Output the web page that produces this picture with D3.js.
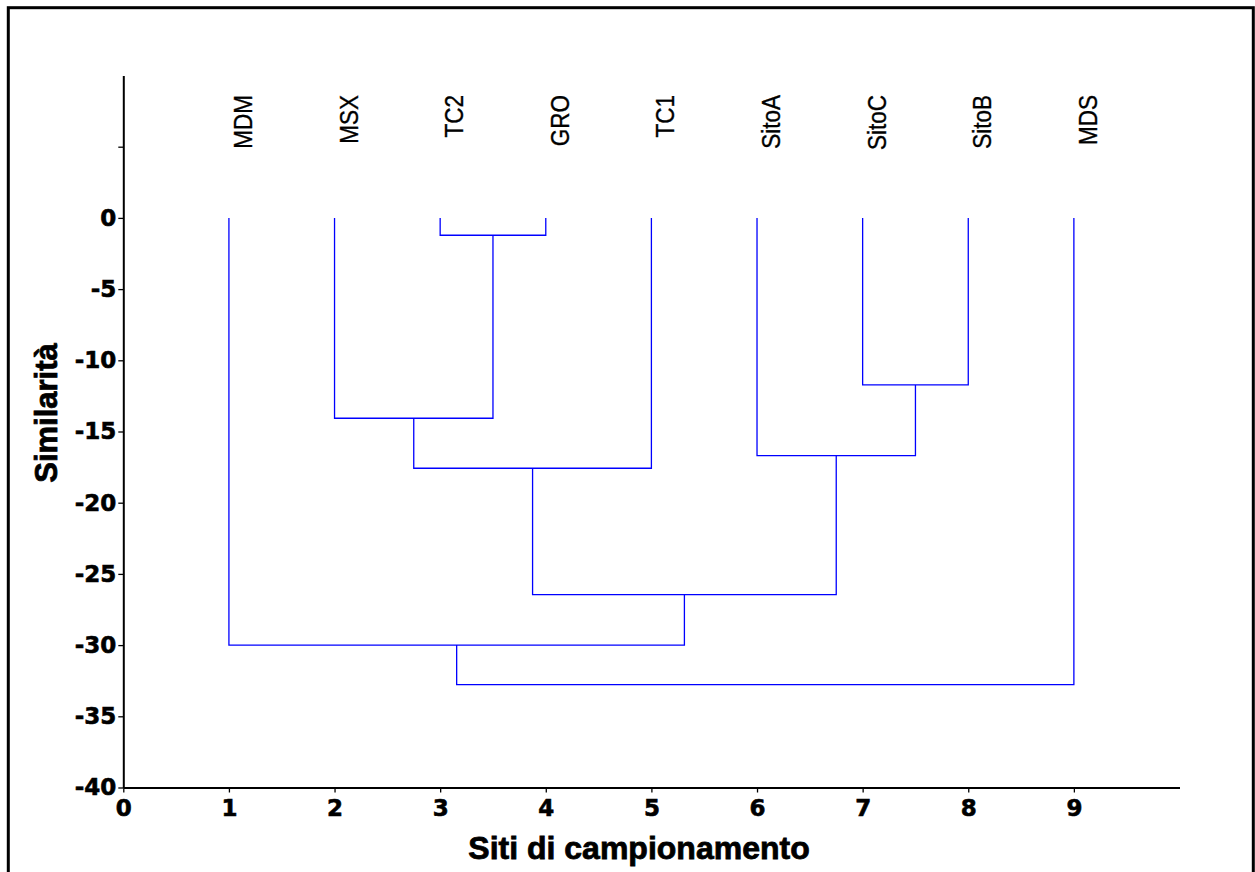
<!DOCTYPE html>
<html>
<head>
<meta charset="utf-8">
<script src="https://cdn.jsdelivr.net/npm/d3@7"></script>
<style>
  body { margin: 0; background: #fff; }
  .tick text { font-family: "DejaVu Sans", sans-serif; font-weight: bold; font-size: 23px; fill: #000; stroke: #000; stroke-width: 0.6px; }
  .title { font-family: "Liberation Sans", Arial, sans-serif; font-weight: bold; fill: #000; stroke: #000; stroke-width: 0.8px; }
  .leaf { font-family: "Liberation Sans", Arial, sans-serif; font-size: 25px; fill: #000; stroke: #000; stroke-width: 0.35px; }
</style>
</head>
<body>
<svg id="chart"></svg>
<script>
// sites (leaves), in drawing order 1..9
const siteLabels = ["MDM", "MSX", "TC2", "GRO", "TC1", "SitoA", "SitoC", "SitoB", "MDS"];
const sitePos = [1, 2, 3, 4, 5, 6, 7, 8, 9];

// linkage: [child A, child B, similarity]; leaves are 0..8, clusters 9..
const mergeA = [2, 6, 1, 5, 11, 13, 0, 15];
const mergeB = [3, 7, 9, 10, 4, 12, 14, 8];
const mergeLevel = [-1.22, -11.73, -14.07, -16.69, -17.58, -26.45, -30.0, -32.77];

const xTicks = [0, 1, 2, 3, 4, 5, 6, 7, 8, 9];
const yTicks = [-40, -35, -30, -25, -20, -15, -10, -5, 0, 5];

const W = 1255, H = 872;

const svg = d3.select("#chart")
  .attr("width", W)
  .attr("height", H);

// outer frame
svg.append("rect")
  .attr("x", 8.3).attr("y", 7.7)
  .attr("width", 1245).attr("height", 920)
  .attr("fill", "none")
  .attr("stroke", "#000")
  .attr("stroke-width", 3);

const x = d3.scaleLinear().domain([0, 10]).range([123.3, 1179.5]);
const y = d3.scaleLinear().domain([-40, 10]).range([787.5, 75.5]);

// axes
const xAxis = svg.append("g")
  .attr("transform", `translate(0,${y(-40)})`)
  .call(d3.axisBottom(x).tickValues(xTicks).tickFormat(d3.format("d"))
    .tickSize(5).tickSizeOuter(0).tickPadding(7));

const yAxis = svg.append("g")
  .attr("transform", `translate(${x(0)},0)`)
  .call(d3.axisLeft(y).tickValues(yTicks).tickFormat(d => d > 0 ? "" : d)
    .tickSize(5).tickSizeOuter(0).tickPadding(2));

[xAxis, yAxis].forEach(a => {
  a.select(".domain").attr("stroke", "#000").attr("stroke-width", 2);
  a.selectAll(".tick line").attr("stroke", "#000").attr("stroke-width", 1.3);
});

// dendrogram
const nodeX = sitePos.slice();
const nodeY = sitePos.map(() => 0);

const links = svg.append("g");

mergeLevel.forEach((h, i) => {
  const a = mergeA[i], b = mergeB[i];
  const p = d3.path();
  p.moveTo(x(nodeX[a]), y(nodeY[a]));
  p.lineTo(x(nodeX[a]), y(h));
  p.lineTo(x(nodeX[b]), y(h));
  p.lineTo(x(nodeX[b]), y(nodeY[b]));
  links.append("path")
    .attr("d", p.toString())
    .attr("fill", "none")
    .attr("stroke", "#0000ff")
    .attr("stroke-width", 1.3);
  nodeX.push((nodeX[a] + nodeX[b]) / 2);
  nodeY.push(h);
});

// site labels, vertical above the leaves
svg.append("g").selectAll("text")
  .data(siteLabels)
  .join("text")
  .attr("class", "leaf")
  .attr("text-anchor", "end")
  .attr("transform", (d, i) => `translate(${x(sitePos[i]) + 23},95) rotate(-90) scale(0.9,1)`)
  .text(d => d);

// axis titles
svg.append("text")
  .attr("class", "title")
  .attr("text-anchor", "middle")
  .attr("x", 639).attr("y", 859)
  .style("font-size", "32px")
  .text("Siti di campionamento");

svg.append("text")
  .attr("class", "title")
  .attr("text-anchor", "middle")
  .attr("transform", "translate(57,413) rotate(-90)")
  .style("font-size", "31px")
  .text("Similarità");
</script>
</body>
</html>
